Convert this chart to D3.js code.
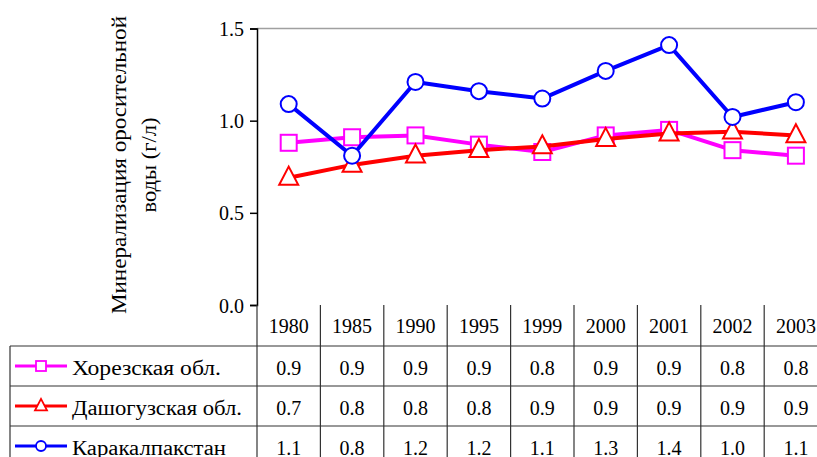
<!DOCTYPE html>
<html>
<head>
<meta charset="utf-8">
<script src="https://cdn.jsdelivr.net/npm/d3@7"></script>
</head>
<body style="margin:0">
<script>
const width = 817;
const height = 457;
const FONT = "Liberation Serif";

// data
const years = ["1980", "1985", "1990", "1995", "1999", "2000", "2001", "2002", "2003"];
const seriesNames = ["Хорезская обл.", "Дашогузская обл.", "Каракалпакстан"];
const khorezm = [0.88, 0.91, 0.92, 0.87, 0.83, 0.92, 0.95, 0.84, 0.81];
const dashoguz = [0.69, 0.76, 0.81, 0.84, 0.86, 0.90, 0.93, 0.94, 0.92];
const karakalpak = [1.09, 0.81, 1.21, 1.16, 1.12, 1.27, 1.41, 1.02, 1.10];
const yTicks = [0.0, 0.5, 1.0, 1.5];
const titleLines = ["Минерализация оросительной", "воды (г/л)"];

const series = [
    { name: seriesNames[0], values: khorezm, color: "#ff00ff", symbol: "square", labelW: 149 },
    { name: seriesNames[1], values: dashoguz, color: "#ff0000", symbol: "triangle", labelW: 170 },
    { name: seriesNames[2], values: karakalpak, color: "#0000ff", symbol: "circle", labelW: 154 }
];

const plotLeft = 257, plotTop = 28.5, plotBottom = 305;
const colW = 63.4;

const x = d3.scaleBand().domain(years).range([plotLeft, plotLeft + colW * years.length]);
const y = d3.scaleLinear().domain([0, 1.5]).range([plotBottom, plotTop]);

const svg = d3.select("body").append("svg")
    .attr("width", width)
    .attr("height", height);

// top border of plot area
svg.append("line")
    .attr("x1", plotLeft).attr("x2", width + 20)
    .attr("y1", plotTop).attr("y2", plotTop)
    .attr("stroke", "#a0a0a0").attr("stroke-width", 1.5);

// y axis
const yAxis = d3.axisLeft(y).tickValues(yTicks).tickFormat(d3.format(".1f")).tickSize(7).tickPadding(6);
const yg = svg.append("g").attr("transform", `translate(${plotLeft},0)`).call(yAxis);
yg.select(".domain").attr("stroke", "#000").attr("stroke-width", 1.5);
yg.selectAll(".tick line").attr("stroke", "#000").attr("stroke-width", 1.5);
yg.selectAll(".tick text")
    .style("font-family", FONT)
    .style("font-size", "20px")
    .attr("dy", "0.35em")
    .attr("fill", "#000");

// y title, two rotated lines
const titleX = [126, 156];
const titleW = [298, 95];
titleLines.forEach((t, i) => {
    svg.append("text")
        .attr("transform", `translate(${titleX[i]},165) rotate(-90)`)
        .attr("text-anchor", "middle")
        .attr("textLength", titleW[i])
        .attr("lengthAdjust", "spacingAndGlyphs")
        .style("font-family", FONT)
        .style("font-size", "20px")
        .text(t);
});

// marker symbol helper
function drawMarker(g, symbol, cx, cy, size, color, sw) {
    if (symbol === "circle") {
        g.append("circle").attr("cx", cx).attr("cy", cy).attr("r", size / 2)
            .attr("fill", "#fff").attr("stroke", color).attr("stroke-width", sw);
    } else if (symbol === "square") {
        g.append("rect").attr("x", cx - size / 2).attr("y", cy - size / 2)
            .attr("width", size).attr("height", size)
            .attr("fill", "#fff").attr("stroke", color).attr("stroke-width", sw);
    } else {
        const h = size * 0.95;
        g.append("path")
            .attr("d", `M${cx},${cy - h * 0.62} L${cx + size / 2},${cy + h * 0.38} L${cx - size / 2},${cy + h * 0.38} Z`)
            .attr("fill", "#fff").attr("stroke", color).attr("stroke-width", sw);
    }
}

const cx = d => x(d) + x.bandwidth() / 2;
const line = d3.line().x((d, i) => cx(years[i])).y(d => y(d));

series.forEach(s => {
    const g = svg.append("g");
    g.append("path")
        .datum(s.values)
        .attr("d", line)
        .attr("fill", "none")
        .attr("stroke", s.color)
        .attr("stroke-width", 4)
        .attr("stroke-linejoin", "round");
    s.values.forEach((v, i) => {
        const size = s.symbol === "triangle" ? 19 : 16;
        drawMarker(g, s.symbol, cx(years[i]), y(v), size, s.color, 2);
    });
});

// data table
const rowTops = [305, 346, 386, 426, 466];
const tableLeft = 10;
const tableRight = plotLeft + colW * years.length;
const gridColor = "#333";
const table = svg.append("g");

// horizontal lines
rowTops.slice(1).forEach(r => {
    table.append("line")
        .attr("x1", tableLeft).attr("x2", tableRight)
        .attr("y1", r).attr("y2", r)
        .attr("stroke", gridColor).attr("stroke-width", 1.2);
});
// left border of legend column
table.append("line")
    .attr("x1", tableLeft).attr("x2", tableLeft)
    .attr("y1", rowTops[1]).attr("y2", height + 5)
    .attr("stroke", gridColor).attr("stroke-width", 1.2);
// column lines
years.forEach(yr => {
    table.append("line")
        .attr("x1", x(yr)).attr("x2", x(yr))
        .attr("y1", plotBottom).attr("y2", height + 5)
        .attr("stroke", gridColor).attr("stroke-width", 1.2);
});

function cellText(px, py, str, anchor) {
    return table.append("text")
        .attr("x", px).attr("y", py)
        .attr("text-anchor", anchor)
        .style("font-family", FONT)
        .style("font-size", "20px")
        .attr("fill", "#000")
        .text(str);
}

// header
years.forEach(yr => {
    cellText(cx(yr), (rowTops[0] + rowTops[1]) / 2 + 7, yr, "middle");
});

// rows
series.forEach((s, r) => {
    const mid = (rowTops[r + 1] + rowTops[r + 2]) / 2;
    table.append("line")
        .attr("x1", 15).attr("x2", 67)
        .attr("y1", mid).attr("y2", mid)
        .attr("stroke", s.color).attr("stroke-width", 3);
    const msize = s.symbol === "triangle" ? 12 : 10;
    drawMarker(table, s.symbol, 41, mid, msize, s.color, 1.8);
    cellText(72, mid + 9, s.name, "start")
        .attr("textLength", s.labelW)
        .attr("lengthAdjust", "spacingAndGlyphs");
    s.values.forEach((v, i) => {
        cellText(cx(years[i]), mid + 9, d3.format(".1f")(v), "middle");
    });
});
</script>
</body>
</html>
